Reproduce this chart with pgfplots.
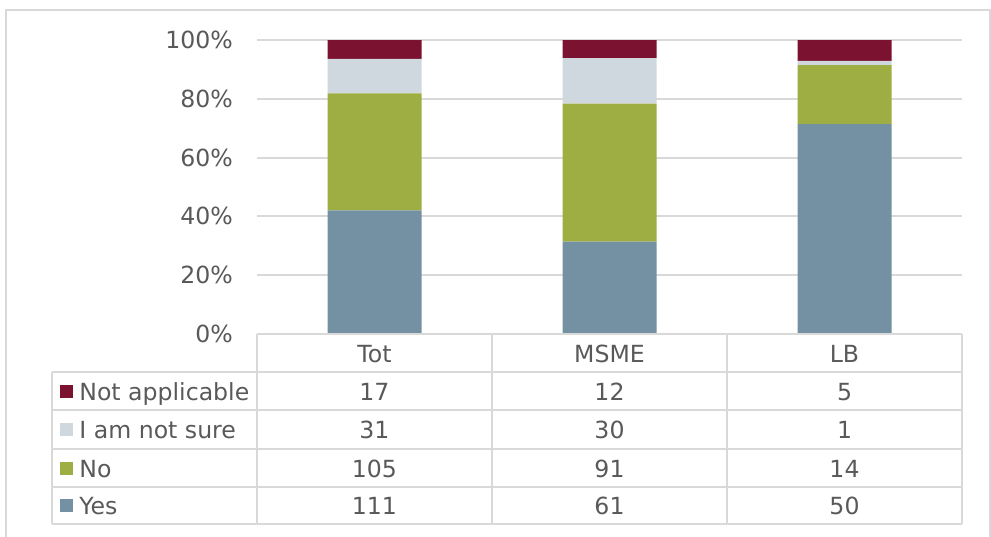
\documentclass[border=0pt]{standalone}
\usepackage{fontspec}
\setmainfont{DejaVu Sans}
\usepackage{pgfplots}
\pgfplotsset{compat=1.18}
\definecolor{cna}{HTML}{7B1230}
\definecolor{cns}{HTML}{D0D8DF}
\definecolor{cno}{HTML}{9FAE42}
\definecolor{cyes}{HTML}{7491A3}
\definecolor{txt}{HTML}{595959}
\definecolor{grd}{HTML}{D9D9D9}

\begin{document}
\fontsize{11.8}{14}\selectfont
\begin{tikzpicture}
\useasboundingbox (0,0) rectangle (495.5pt,-268pt);
% outer frame
\draw[grd, line width=1pt] (3pt,-290pt) -- (3pt,-5pt) -- (495pt,-5pt) -- (495pt,-290pt);

\begin{axis}[
  at={(128.5pt,-167pt)}, anchor=south west,
  scale only axis, width=352.5pt, height=147pt,
  ybar stacked, bar width=47pt,
  xmin=-0.5, xmax=2.5, ymin=0, ymax=100,
  axis line style={draw=none},
  xtick=\empty, major tick length=0,
  ytick={0,20,40,60,80,100},
  yticklabels={0\%,20\%,40\%,60\%,80\%,100\%},
  yticklabel style={text=txt, font=\fontsize{11.8}{14}\selectfont, xshift=-8pt},
  ymajorgrids, grid style={grd, line width=1pt},
  clip=false]
% shares of each group (counts / group total, in %)
\addplot[fill=cyes, draw=none] coordinates {(0,42.05) (1,31.44) (2,71.43)};
\addplot[fill=cno,  draw=none] coordinates {(0,39.77) (1,46.91) (2,20.00)};
\addplot[fill=cns,  draw=none] coordinates {(0,11.74) (1,15.46) (2,1.43)};
\addplot[fill=cna,  draw=none] coordinates {(0,6.44)  (1,6.19)  (2,7.14)};
\end{axis}

% data table
\begin{scope}[x=0.5pt, y=-0.5pt]
\draw[grd, line width=0.75pt] (257,334) -- (962,334);
\foreach \yy in {372,410,449,487,524} \draw[grd, line width=0.75pt] (52,\yy) -- (962,\yy);
\draw[grd, line width=0.75pt] (52,372) -- (52,524);
\foreach \xx in {257,492,727,962} \draw[grd, line width=0.75pt] (\xx,334) -- (\xx,524);
\begin{scope}[every node/.style={inner sep=0pt, text=txt}]
\node[anchor=base] at (374.5,362) {Tot};
\node[anchor=base] at (609.5,362) {MSME};
\node[anchor=base] at (844.5,362) {LB};
\foreach \nm/\col/\cy/\a/\b/\c in {Not applicable/cna/391/17/12/5,
    I am not sure/cns/429.5/31/30/1, No/cno/468/105/91/14, Yes/cyes/505.5/111/61/50} {
  \fill[\col] (60,\cy-6.5) rectangle (73,\cy+6.5);
  \node[anchor=base west] at (79,\cy+9) {\nm};
  \node[anchor=base] at (374.5,\cy+9) {\a};
  \node[anchor=base] at (609.5,\cy+9) {\b};
  \node[anchor=base] at (844.5,\cy+9) {\c};
}
\end{scope}
\end{scope}
\end{tikzpicture}
\end{document}
